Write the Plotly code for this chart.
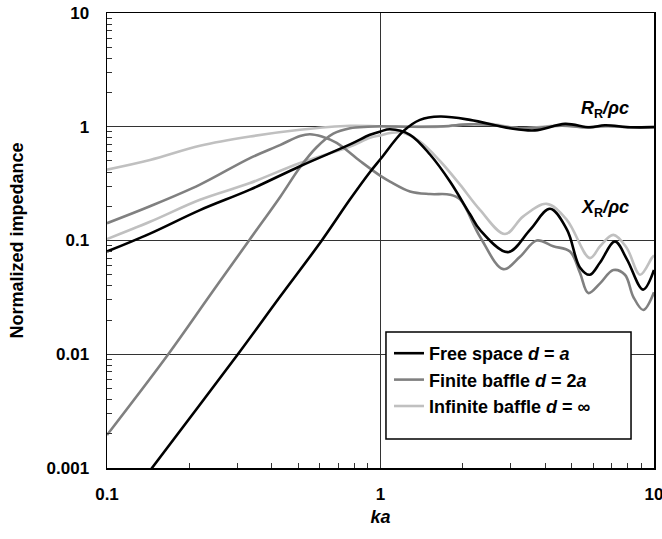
import plotly.graph_objects as go

# ---------------- data ----------------
free_r_ka = [0.12, 0.146, 0.301, 0.429, 0.61, 0.774, 0.9155, 1.0, 1.209, 1.394, 1.65,
             2.125, 2.976, 3.67, 4.73, 5.83, 6.62, 8.17, 10]
free_r = [0.00053, 0.001, 0.01, 0.032, 0.1, 0.23, 0.40, 0.52, 0.91, 1.15, 1.23,
          1.15, 0.97, 0.93, 1.06, 0.99, 1.03, 0.99, 0.99]

free_x_ka = [0.1, 0.1436, 0.2187, 0.3333, 0.5079, 0.7738, 0.9155, 1.0, 1.083, 1.282,
             1.517, 1.795, 2.125, 2.311, 2.926, 3.52, 4.165, 4.81, 5.36, 5.83, 6.35,
             7.20, 7.97, 9.12, 10]
free_x = [0.080, 0.115, 0.185, 0.28, 0.45, 0.70, 0.85, 0.91, 0.95, 0.85,
          0.57, 0.33, 0.17, 0.124, 0.079, 0.124, 0.19, 0.124, 0.058, 0.050, 0.064,
          0.098, 0.068, 0.037, 0.055]

finite_r_ka = [0.1, 0.1675, 0.238, 0.3306, 0.429, 0.508, 0.584, 0.672, 0.774, 0.9,
               1.0, 1.3, 1.7, 2.1, 2.5, 3.2, 3.8, 4.6, 5.6, 6.8, 8.2, 10]
finite_r = [0.00195, 0.01, 0.033, 0.1, 0.24, 0.44, 0.66, 0.87, 0.97, 1.0,
            1.01, 1.0, 1.01, 1.05, 1.04, 0.97, 0.98, 1.02, 0.99, 1.01, 0.99, 1.0]

finite_x_ka = [0.1, 0.1436, 0.2187, 0.3333, 0.429, 0.508, 0.5524, 0.61, 0.6914, 0.842,
               1.0, 1.083, 1.282, 1.517, 1.795, 1.953, 2.311, 2.812, 3.236, 3.725,
               4.283, 4.93, 5.36, 5.75, 6.35, 7.10, 7.83, 8.40, 9.14, 10]
finite_x = [0.142, 0.20, 0.31, 0.53, 0.69, 0.83, 0.86, 0.82, 0.72, 0.50,
            0.37, 0.33, 0.27, 0.256, 0.253, 0.23, 0.108, 0.056, 0.072, 0.100,
            0.089, 0.080, 0.052, 0.0345, 0.042, 0.055, 0.050, 0.032, 0.0245, 0.035]

infinite_r_ka = [0.1, 0.1436, 0.2187, 0.3333, 0.508, 0.774, 1.0, 1.3, 1.65, 2.0, 2.5,
                 3.2, 3.9, 4.7, 5.6, 6.6, 8.0, 10]
infinite_r = [0.42, 0.51, 0.68, 0.82, 0.94, 1.02, 1.01, 1.0, 1.0, 1.04, 1.06,
              0.97, 1.0, 1.03, 0.98, 1.02, 0.99, 1.0]

infinite_x_ka = [0.1, 0.1436, 0.2187, 0.3333, 0.508, 0.774, 0.9155, 1.0, 1.083, 1.2,
                 1.394, 1.65, 1.953, 2.311, 2.852, 3.327, 4.05, 4.80, 5.83, 6.35,
                 7.10, 7.95, 8.89, 9.81, 10]
infinite_x = [0.103, 0.146, 0.228, 0.32, 0.48, 0.67, 0.80, 0.84, 0.88, 0.89,
              0.74, 0.50, 0.31, 0.186, 0.114, 0.163, 0.21, 0.152, 0.070, 0.089,
              0.112, 0.086, 0.050, 0.070, 0.074]

series_names = ["Free space <i>d</i> = <i>a</i>",
                "Finite baffle <i>d</i> = 2<i>a</i>",
                "Infinite baffle <i>d</i> = ∞"]
series_colors = ["#000000", "#808080", "#c0c0c0"]

x_tick_vals = [0.1, 1, 10]
x_tick_text = ["0.1", "1", "10"]
y_tick_vals = [0.001, 0.01, 0.1, 1, 10]
y_tick_text = ["0.001", "0.01", "0.1", "1", "10"]
x_minor = [m * 10.0 ** e for e in (-1, 0) for m in range(2, 10)]
y_minor = [m * 10.0 ** e for e in (-3, -2, -1, 0) for m in range(2, 10)]

FONT = "Liberation Sans, Arial, sans-serif"

# ---------------- figure ----------------
fig = go.Figure()

groups = [
    (2, infinite_r_ka, infinite_r, infinite_x_ka, infinite_x),
    (1, finite_r_ka, finite_r, finite_x_ka, finite_x),
    (0, free_r_ka, free_r, free_x_ka, free_x),
]
for idx, rk, rv, xk, xv in groups:
    for j, (kk, vv) in enumerate([(rk, rv), (xk, xv)]):
        fig.add_trace(go.Scatter(
            x=kk, y=vv, mode="lines",
            line=dict(color=series_colors[idx], width=2.6, shape="spline", smoothing=1.0),
            name=series_names[idx], legendgroup=str(idx),
            showlegend=(j == 0), legendrank=idx + 1,
            hoverinfo="skip",
        ))

axis_common = dict(
    type="log",
    showgrid=True, gridcolor="#333333", gridwidth=1.3,
    showline=True, linecolor="#000000", linewidth=1.5, mirror=True,
    ticks="", zeroline=False, ticklabeloverflow="allow",
    tickfont=dict(family=FONT, size=17, color="#000000", weight="bold"),
)

fig.update_xaxes(
    **axis_common,
    range=[-1, 1],
    tickvals=x_tick_vals, ticktext=x_tick_text,
    ticklabelstandoff=10,
    minor=dict(ticks="inside", ticklen=5, tickcolor="#333333", tickwidth=1,
               tickvals=x_minor, showgrid=False),
    title=dict(text="<i>ka</i>", standoff=7,
               font=dict(family=FONT, size=18, color="#000000", weight="bold")),
)
fig.update_yaxes(
    **axis_common,
    range=[-3, 1],
    tickvals=y_tick_vals, ticktext=y_tick_text,
    ticklabelstandoff=13,
    minor=dict(ticks="inside", ticklen=5, tickcolor="#333333", tickwidth=1,
               tickvals=y_minor, showgrid=False),
    title=dict(text="Normalized impedance", standoff=18,
               font=dict(family=FONT, size=18, color="#000000", weight="bold")),
)

fig.add_annotation(xref="paper", yref="paper", x=0.910, y=0.787,
                   xanchor="center", yanchor="middle",
                   text="<b><i>R</i><sub>R</sub><i>/ρc</i></b>", showarrow=False,
                   font=dict(family=FONT, size=18, color="#000000"))
fig.add_annotation(xref="paper", yref="paper", x=0.910, y=0.571,
                   xanchor="center", yanchor="middle",
                   text="<b><i>X</i><sub>R</sub><i>/ρc</i></b>", showarrow=False,
                   font=dict(family=FONT, size=18, color="#000000"))

# legend frame (opaque box, as in the reference)
fig.add_shape(type="rect", xref="paper", yref="paper",
              x0=0.510, x1=0.958, y0=0.0637, y1=0.299,
              line=dict(color="#000000", width=1.5), fillcolor="#ffffff", layer="above")

fig.update_layout(
    width=662, height=539,
    margin=dict(l=107, r=8, t=13, b=71, autoexpand=False),
    paper_bgcolor="#ffffff", plot_bgcolor="#ffffff",
    showlegend=True,
    legend=dict(x=0.5155, y=0.2923, xanchor="left", yanchor="top",
                bgcolor="rgba(0,0,0,0)", borderwidth=0,
                font=dict(family=FONT, size=18, color="#000000", weight="bold"),
                traceorder="normal", tracegroupgap=0),
)

fig.write_html("out.html",
               config={"displayModeBar": False, "staticPlot": True},
               post_script="document.body.style.margin='0';document.body.style.overflow='hidden';")
